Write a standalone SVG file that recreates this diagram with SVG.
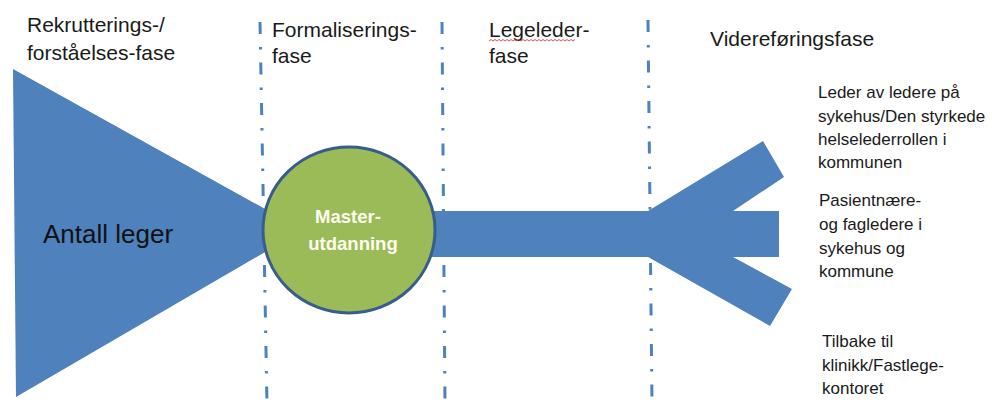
<svg xmlns="http://www.w3.org/2000/svg" width="992" height="412" viewBox="0 0 992 412">
  <style>
    .phase { fill: none; stroke: #4f81bd; stroke-width: 3; stroke-dasharray: 12 13 2.5 13; }
    .shape { fill: #4f81bd; stroke: none; }
    .hdr { font-family: "Liberation Sans", Arial, sans-serif; font-size: 21px; fill: #1a1a1a; }
    .side { font-family: "Liberation Sans", Arial, sans-serif; font-size: 17px; fill: #1a1a1a; }
    .big { font-family: "Liberation Sans", Arial, sans-serif; font-size: 26px; fill: #111111; }
    .master { font-family: "Liberation Sans", Arial, sans-serif; font-size: 18.5px; font-weight: bold; fill: #fffdf0; text-anchor: middle; }
  </style>
  <rect width="992" height="412" fill="#ffffff"/>

  <g id="connectors">
    <line class="phase" x1="260" y1="22" x2="267" y2="405"/>
    <line class="phase" x1="442" y1="22" x2="445" y2="405"/>
    <line class="phase" x1="648" y1="20" x2="652" y2="403"/>
    <g id="flow">
      <rect class="shape" x="420" y="211" width="359" height="46"/>
      <polygon class="shape" points="648,211 763,141 784,177 733,211 779,211 779,257 733,257 792,289 770,326 648,257"/>
    </g>
  </g>

  <g id="node-antall-leger">
    <polygon class="shape" points="13,69 16,397 303,230"/>
    <text class="big" x="43" y="243">Antall leger</text>
  </g>

  <g id="node-master">
    <ellipse cx="349" cy="230" rx="86" ry="83" fill="#9bbb59" stroke="#385d8a" stroke-width="3"/>
    <text class="master" x="348" y="223">Master-</text>
    <text class="master" x="353" y="250">utdanning</text>
  </g>

  <g id="phase-rekruttering">
    <text class="hdr" x="27" y="32">Rekrutterings-/</text>
    <text class="hdr" x="27" y="60">forståelses-fase</text>
  </g>
  <g id="phase-formalisering">
    <text class="hdr" x="272" y="37">Formaliserings-</text>
    <text class="hdr" x="272" y="63">fase</text>
  </g>
  <g id="phase-legeleder">
    <text class="hdr" x="489" y="37">Legeleder-</text>
    <path d="M489,41 l2,-1.5 l2,1.5 l2,-1.5 l2,1.5 l2,-1.5 l2,1.5 l2,-1.5 l2,1.5 l2,-1.5 l2,1.5 l2,-1.5 l2,1.5 l2,-1.5 l2,1.5 l2,-1.5 l2,1.5 l2,-1.5 l2,1.5 l2,-1.5 l2,1.5 l2,-1.5 l2,1.5 l2,-1.5 l2,1.5 l2,-1.5 l2,1.5 l2,-1.5 l2,1.5 l2,-1.5 l2,1.5 l2,-1.5 l2,1.5 l2,-1.5 l2,1.5 l2,-1.5 l2,1.5 l2,-1.5 l2,1.5 l2,-1.5 l2,1.5 l2,-1.5 l2,1.5 l2,-1.5" fill="none" stroke="#e04040" stroke-width="0.9"/>
    <text class="hdr" x="489" y="63">fase</text>
  </g>
  <g id="phase-videreforing">
    <text class="hdr" x="710" y="46">Videreføringsfase</text>
  </g>

  <g id="outcome-leder">
    <text class="side" x="818" y="98">Leder av ledere på</text>
    <text class="side" x="818" y="122">sykehus/Den styrkede</text>
    <text class="side" x="818" y="145">helselederrollen i</text>
    <text class="side" x="818" y="168">kommunen</text>
  </g>
  <g id="outcome-pasientnaere">
    <text class="side" x="819" y="206">Pasientnære-</text>
    <text class="side" x="819" y="230">og fagledere i</text>
    <text class="side" x="819" y="254">sykehus og</text>
    <text class="side" x="819" y="277">kommune</text>
  </g>
  <g id="outcome-tilbake">
    <text class="side" x="822" y="347">Tilbake til</text>
    <text class="side" x="822" y="371">klinikk/Fastlege-</text>
    <text class="side" x="822" y="394">kontoret</text>
  </g>
</svg>
